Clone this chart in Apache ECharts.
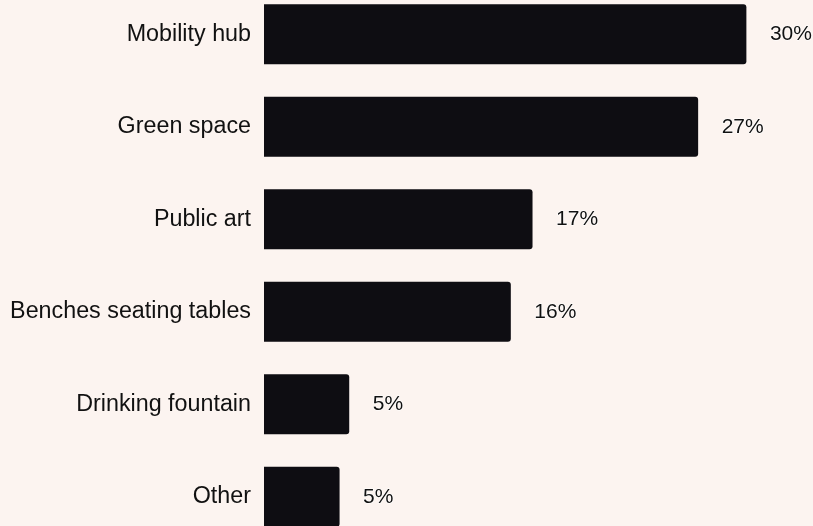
<!DOCTYPE html>
<html><head><meta charset="utf-8">
<script src="https://cdn.jsdelivr.net/npm/echarts@6/dist/echarts.min.js"></script>
<style>html,body{margin:0;padding:0;background:#fcf4f0;}#c{width:813px;height:526px;}</style>
</head><body><div id="c"></div>
<script>
const categories = ['Mobility hub','Green space','Public art','Benches seating tables','Drinking fountain','Other'];
const values = [30, 27, 16.7, 15.35, 5.3, 4.7];
const valueLabels = ['30%','27%','17%','16%','5%','5%'];

const chart = echarts.init(document.getElementById('c'));
chart.setOption({
  backgroundColor: '#fcf4f0',
  animation: false,
  grid: {left: 264, width: 546.7, top: -12, height: 555, outerBoundsMode: 'none', containLabel: false},
  xAxis: {type: 'value', min: 0, max: 34, show: false},
  yAxis: {type: 'category', data: categories, inverse: true,
    axisLine: {show: false}, axisTick: {show: false},
    axisLabel: {color: '#111', fontSize: 23.3, fontFamily: 'Liberation Sans', margin: 13}},
  series: [{type: 'bar', data: values, barCategoryGap: '35%',
    itemStyle: {color: '#0e0d12', borderRadius: [0, 3, 3, 0]},
    label: {show: true, position: 'right', distance: 23.5, color: '#111', fontSize: 21,
      fontFamily: 'Liberation Sans', textBorderColor: '#fff', textBorderWidth: 1.2,
      formatter: p => valueLabels[p.dataIndex]}}]
});
</script></body></html>
